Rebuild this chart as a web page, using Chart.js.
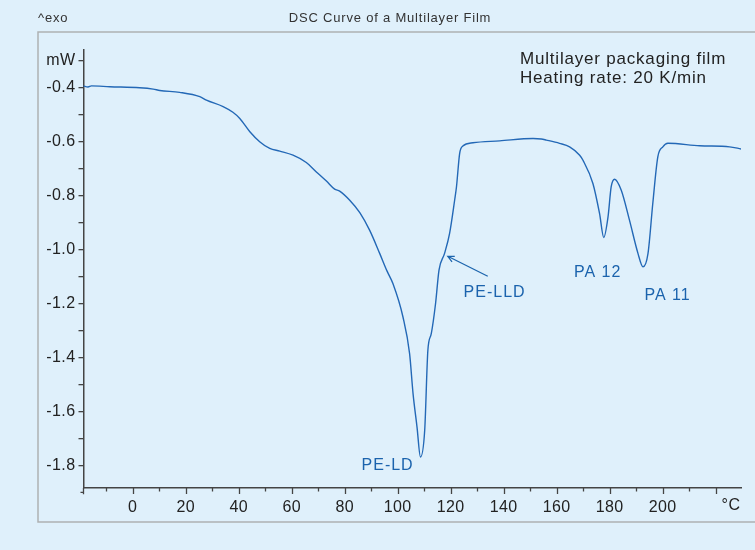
<!DOCTYPE html>
<html lang="en">
<head>
    <meta charset="UTF-8">
    <title>DSC Curve of a Multilayer Film</title>
    <script src="https://cdn.jsdelivr.net/npm/chart.js"></script>
    <style>
        body { margin: 0; background: #dff0fb; }
        canvas { display: block; }
    </style>
</head>
<body>
    <canvas id="dscChart" width="755" height="550"></canvas>

    <script>
        // temperature (°C) and heat flow (mW)
        const temps = [
            -18.7, -16.9, -15.6, -8.7, 2.6, 7.7, 10.2, 17.7, 25.3, 27.8,
            34.1, 37.8, 40.4, 44.2, 47.9, 51.7, 55.5, 60.5, 65.5, 69.3,
            73.1, 76.2, 78.1, 81.9, 85.7, 89.4, 93.2, 96.0, 98.2, 102.0,
            104.5, 105.8, 107.3, 108.6, 110.2, 111.4, 112.7, 114.3, 115.6, 117.7,
            119.6, 121.5, 122.2, 123.4, 124.6, 128.4, 138.5, 151.1, 154.2, 156.1,
            161.1, 164.9, 168.7, 169.9, 173.7, 176.2, 177.8, 179.4, 180.6, 181.9,
            184.4, 187.5, 190.7, 192.6, 194.5, 196.3, 198.2, 200.1, 202.0, 214.0,
            225.3, 229.7
        ];
        const heatFlow = [
            -0.393, -0.397, -0.393, -0.396, -0.400, -0.405, -0.410, -0.417, -0.433, -0.446,
            -0.470, -0.491, -0.514, -0.563, -0.600, -0.625, -0.635, -0.650, -0.677, -0.712,
            -0.746, -0.776, -0.783, -0.817, -0.863, -0.928, -1.014, -1.080, -1.126, -1.250,
            -1.386, -1.534, -1.658, -1.769, -1.670, -1.373, -1.311, -1.200, -1.076, -1.014,
            -0.940, -0.817, -0.767, -0.643, -0.616, -0.604, -0.597, -0.588, -0.590, -0.594,
            -0.606, -0.619, -0.650, -0.668, -0.755, -0.866, -0.955, -0.879, -0.767, -0.739,
            -0.780, -0.891, -1.014, -1.064, -1.014, -0.829, -0.656, -0.619, -0.606, -0.615,
            -0.619, -0.627
        ];

        const xTickValues = [-10, 0, 10, 20, 30, 40, 50, 60, 70, 80, 90, 100, 110, 120,
                             130, 140, 150, 160, 170, 180, 190, 200, 210, 220];
        const yTickValues = [-1.8, -1.7, -1.6, -1.5, -1.4, -1.3, -1.2, -1.1, -1.0,
                             -0.9, -0.8, -0.7, -0.6, -0.5, -0.4, -0.3];

        const peakNames = ['PE-LD', 'PE-LLD', 'PA 12', 'PA 11'];
        const peakX = [96.2, 136.6, 175.5, 201.9];
        const peakY = [-1.80, -1.158, -1.084, -1.169];

        const points = temps.map((t, i) => ({ x: t, y: heatFlow[i] }));

        const curveBlue = '#2368b6';
        const labelBlue = '#1b63ad';

        // frame, titles, peak labels and tick marks
        const decorations = {
            id: 'decorations',
            beforeDraw(chart) {
                const c = chart.ctx;
                c.save();
                c.fillStyle = '#dff0fb';
                c.fillRect(0, 0, chart.width, chart.height);
                c.strokeStyle = '#aeb1b3';
                c.lineWidth = 1.5;
                c.strokeRect(38, 32, 740, 490);
                c.restore();
                // slightly spaced lettering for the axis numbers
                c.letterSpacing = '0.4px';
            },
            afterDraw(chart) {
                const c = chart.ctx;
                const xs = chart.scales.x, ys = chart.scales.y;
                const area = chart.chartArea;
                c.save();

                // header texts
                c.fillStyle = '#333';
                c.font = '13px Arial';
                c.letterSpacing = '0.8px';
                c.textBaseline = 'middle';
                c.textAlign = 'left';
                c.fillText('^exo', 38, 18);
                c.textAlign = 'center';
                c.fillText('DSC Curve of a Multilayer Film', 390, 18);

                c.fillStyle = '#222';
                c.font = '17px Arial';
                c.textAlign = 'left';
                c.fillText('Multilayer packaging film', 520, 59);
                c.fillText('Heating rate: 20 K/min', 520, 78);

                // x tick marks: long at 20s, short at 10s
                c.strokeStyle = '#444';
                c.lineWidth = 1.3;
                xTickValues.forEach(v => {
                    const px = Math.round(xs.getPixelForValue(v)) + 0.5;
                    const len = v % 20 === 0 ? 6 : 3.5;
                    c.beginPath();
                    c.moveTo(px, area.bottom);
                    c.lineTo(px, area.bottom + len);
                    c.stroke();
                });

                // y axis runs a little below the x axis
                const yLow = ys.getPixelForValue(-1.9);
                c.beginPath();
                c.moveTo(area.left, area.bottom);
                c.lineTo(area.left, yLow + 2);
                c.moveTo(area.left - 3, yLow);
                c.lineTo(area.left, yLow);
                c.stroke();

                c.fillStyle = '#222';
                c.font = '16px Arial';
                c.letterSpacing = '0.5px';
                c.textAlign = 'center';
                c.fillText('°C', 731, 506);

                // peak labels
                c.fillStyle = labelBlue;
                c.font = '16px Arial';
                c.letterSpacing = '1px';
                peakNames.forEach((name, i) => {
                    c.fillText(name, xs.getPixelForValue(peakX[i]), ys.getPixelForValue(peakY[i]));
                });

                // arrow to the PE-LLD shoulder
                const x1 = xs.getPixelForValue(134), y1 = ys.getPixelForValue(-1.099);
                const x2 = xs.getPixelForValue(118.9), y2 = ys.getPixelForValue(-1.025);
                const ang = Math.atan2(y2 - y1, x2 - x1);
                c.strokeStyle = labelBlue;
                c.lineWidth = 1.2;
                c.beginPath();
                c.moveTo(x1, y1);
                c.lineTo(x2, y2);
                c.moveTo(x2 - 7 * Math.cos(ang - 0.45), y2 - 7 * Math.sin(ang - 0.45));
                c.lineTo(x2, y2);
                c.lineTo(x2 - 7 * Math.cos(ang + 0.45), y2 - 7 * Math.sin(ang + 0.45));
                c.stroke();

                c.restore();
            }
        };

        new Chart(document.getElementById('dscChart'), {
            type: 'line',
            data: {
                datasets: [{
                    data: points,
                    borderColor: curveBlue,
                    borderWidth: 1.4,
                    pointRadius: 0,
                    cubicInterpolationMode: 'monotone',
                    fill: false
                }]
            },
            options: {
                responsive: false,
                animation: false,
                devicePixelRatio: 1,
                layout: { padding: { top: 50, right: 14, left: 0, bottom: 0 } },
                plugins: {
                    legend: { display: false },
                    tooltip: { enabled: false }
                },
                scales: {
                    x: {
                        type: 'linear',
                        min: -18.6,
                        max: 229.6,
                        afterBuildTicks: s => { s.ticks = xTickValues.map(v => ({ value: v })); },
                        afterFit: s => { s.height = 62; },
                        grid: { display: true, drawOnChartArea: false, tickLength: 6, color: 'transparent' },
                        border: { display: true, color: '#444', width: 1.5 },
                        ticks: {
                            maxRotation: 0,
                            autoSkip: false,
                            padding: 4,
                            color: '#222',
                            font: { family: 'Arial', size: 16 },
                            callback: v => (v % 20 === 0 && v <= 200) ? String(v) : ''
                        }
                    },
                    y: {
                        type: 'linear',
                        min: -1.884,
                        max: -0.26,
                        afterBuildTicks: s => { s.ticks = yTickValues.map(v => ({ value: v })); },
                        afterFit: s => { s.width = 83.5; },
                        grid: { display: true, drawOnChartArea: false, tickLength: 5, color: '#444', lineWidth: 1.3 },
                        border: { display: true, color: '#444', width: 1.5 },
                        ticks: {
                            autoSkip: false,
                            padding: 3,
                            color: '#222',
                            font: { family: 'Arial', size: 16 },
                            callback: v => {
                                const tenth = Math.round(v * 10);
                                if (tenth === -3) return 'mW';
                                return tenth % 2 === 0 ? v.toFixed(1) : '';
                            }
                        }
                    }
                }
            },
            plugins: [decorations]
        });
    </script>
</body>
</html>
